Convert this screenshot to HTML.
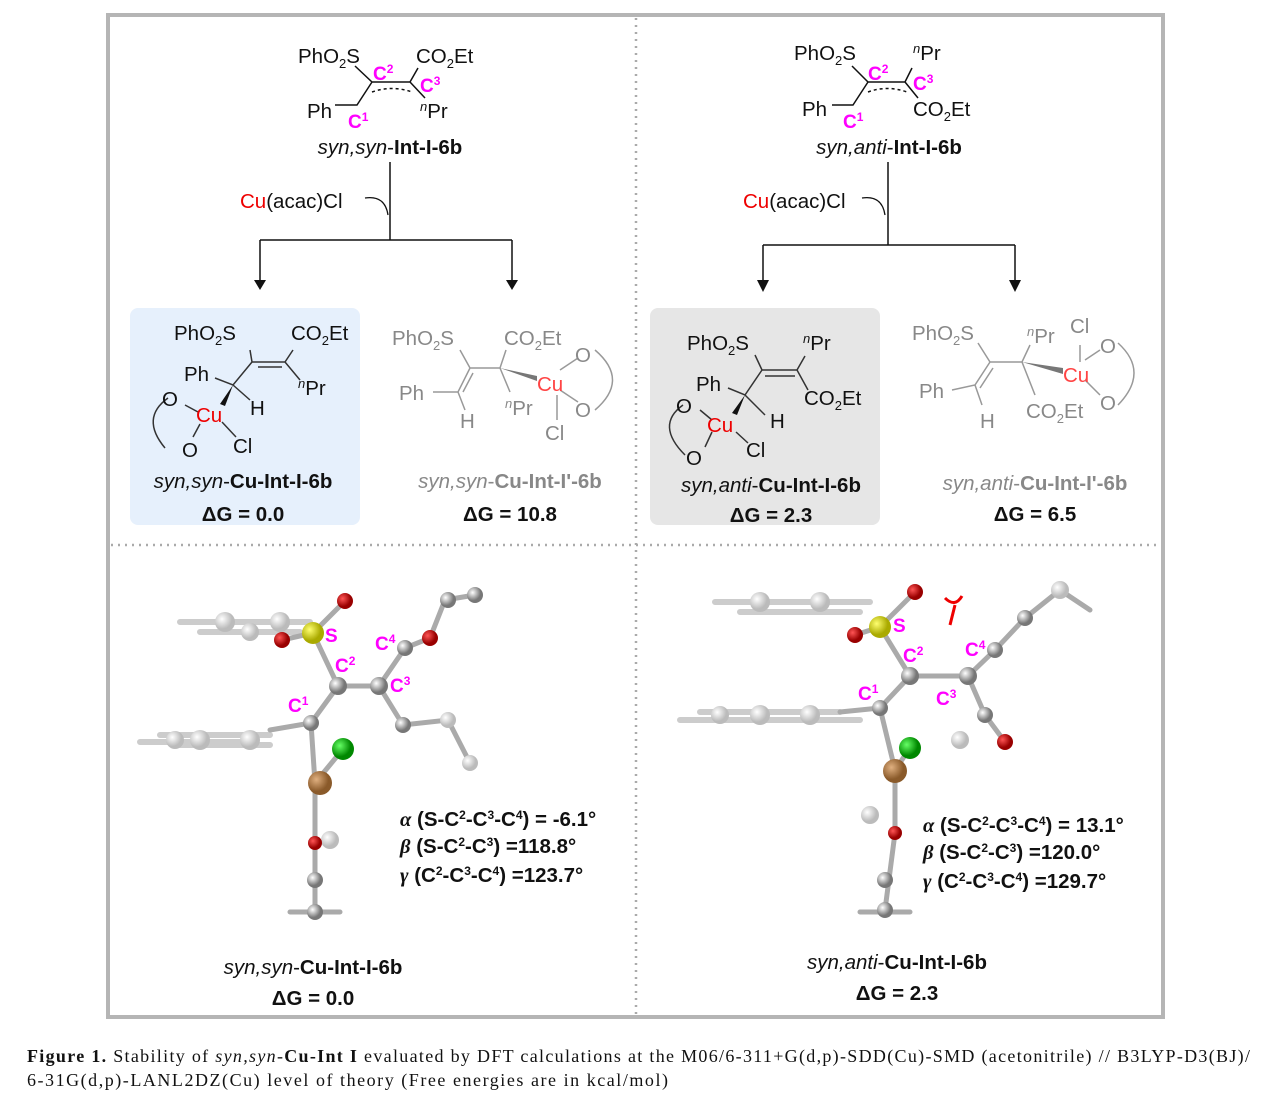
<!DOCTYPE html>
<html><head><meta charset="utf-8"><style>
html,body{margin:0;padding:0;background:#fff;}
svg{display:block;}
text{font-family:"Liberation Sans",Arial,sans-serif;}
.s{font-size:20.5px;fill:#111;}
.g{font-size:20.5px;fill:#888;}
.m{font-size:19px;fill:#f0f;font-weight:bold;}
.b{font-weight:bold;}
.cap{font-family:"Liberation Serif",serif;font-size:18px;fill:#111;}
</style></head><body>
<svg width="1269" height="1110" viewBox="0 0 1269 1110" xmlns="http://www.w3.org/2000/svg">
<defs>
<radialGradient id="gc" cx="35%" cy="35%"><stop offset="0" stop-color="#fff"/><stop offset="1" stop-color="#777"/></radialGradient>
<radialGradient id="gl" cx="35%" cy="35%"><stop offset="0" stop-color="#fff"/><stop offset="1" stop-color="#bbb"/></radialGradient>
<radialGradient id="ro" cx="35%" cy="35%"><stop offset="0" stop-color="#f55"/><stop offset="1" stop-color="#900"/></radialGradient>
<radialGradient id="ys" cx="35%" cy="35%"><stop offset="0" stop-color="#ffff70"/><stop offset="1" stop-color="#aa0"/></radialGradient>
<radialGradient id="gn" cx="35%" cy="35%"><stop offset="0" stop-color="#6f6"/><stop offset="1" stop-color="#080"/></radialGradient>
<radialGradient id="cu" cx="35%" cy="35%"><stop offset="0" stop-color="#e0b080"/><stop offset="1" stop-color="#8a5a2a"/></radialGradient>
</defs>
<rect x="108" y="15" width="1055" height="1002" fill="none" stroke="#b5b5b5" stroke-width="4"/>
<line x1="636" y1="18" x2="636" y2="1015" stroke="#aaa" stroke-width="2.5" stroke-dasharray="2,5"/>
<line x1="111" y1="545" x2="1161" y2="545" stroke="#aaa" stroke-width="2.5" stroke-dasharray="2,5"/>
<rect x="130" y="308" width="230" height="217" rx="8" fill="#e6f0fc"/>
<rect x="650" y="308" width="230" height="217" rx="8" fill="#e6e6e6"/>

<!-- top left reactant -->
<g stroke="#111" stroke-width="1.5" fill="none">
<path d="M355,66 L372,82 L410,82 L418,68 M410,82 L425,98 M372,82 L357,105 L335,105"/>
<path d="M372,92 Q392,85 412,92" stroke-dasharray="3,3"/>
</g>
<text x="298" y="63" class="s">PhO<tspan font-size="13" dy="5">2</tspan><tspan dy="-5">S</tspan></text>
<text x="416" y="63" class="s">CO<tspan font-size="13" dy="5">2</tspan><tspan dy="-5">Et</tspan></text>
<text x="373" y="80" class="m">C<tspan font-size="12" dy="-7">2</tspan></text>
<text x="420" y="92" class="m">C<tspan font-size="12" dy="-7">3</tspan></text>
<text x="348" y="128" class="m">C<tspan font-size="12" dy="-7">1</tspan></text>
<text x="307" y="118" class="s">Ph</text>
<text x="420" y="118" class="s"><tspan font-size="13" dy="-7" font-style="italic">n</tspan><tspan dy="7">Pr</tspan></text>
<text x="390" y="154" class="s" text-anchor="middle"><tspan font-style="italic">syn,syn</tspan>-<tspan class="b">Int-I-6b</tspan></text>
<path d="M390,162 V240 M260,240 H512 M260,240 V288 M512,240 V288" stroke="#111" stroke-width="1.5" fill="none"/>
<path d="M254,280 L260,290 L266,280z M506,280 L512,290 L518,280z" fill="#111"/>
<path d="M365,198 Q385,195 388,215" stroke="#111" fill="none" stroke-width="1.3"/>
<text x="240" y="208" class="s"><tspan fill="#e00">Cu</tspan>(acac)Cl</text>

<!-- top right reactant -->
<g stroke="#111" stroke-width="1.5" fill="none">
<path d="M852,66 L868,82 L905,82 L912,68 M905,82 L918,98 M868,82 L853,105 L832,105"/>
<path d="M868,92 Q887,85 907,92" stroke-dasharray="3,3"/>
</g>
<text x="794" y="60" class="s">PhO<tspan font-size="13" dy="5">2</tspan><tspan dy="-5">S</tspan></text>
<text x="913" y="60" class="s"><tspan font-size="13" dy="-7" font-style="italic">n</tspan><tspan dy="7">Pr</tspan></text>
<text x="868" y="80" class="m">C<tspan font-size="12" dy="-7">2</tspan></text>
<text x="913" y="90" class="m">C<tspan font-size="12" dy="-7">3</tspan></text>
<text x="843" y="128" class="m">C<tspan font-size="12" dy="-7">1</tspan></text>
<text x="802" y="116" class="s">Ph</text>
<text x="913" y="116" class="s">CO<tspan font-size="13" dy="5">2</tspan><tspan dy="-5">Et</tspan></text>
<text x="889" y="154" class="s" text-anchor="middle"><tspan font-style="italic">syn,anti</tspan>-<tspan class="b">Int-I-6b</tspan></text>
<path d="M888,162 V245 M763,245 H1015 M763,245 V288 M1015,245 V288" stroke="#111" stroke-width="1.5" fill="none"/>
<path d="M757,280 L763,292 L769,280z M1009,280 L1015,292 L1021,280z" fill="#111"/>
<path d="M862,198 Q882,195 885,215" stroke="#111" fill="none" stroke-width="1.3"/>
<text x="743" y="208" class="s"><tspan fill="#e00">Cu</tspan>(acac)Cl</text>

<!-- syn,syn Cu-Int-I-6b -->
<g stroke="#333" stroke-width="1.5" fill="none">
<path d="M250,350 L252,362 L285,362 L293,350 M258,367 L282,367 M285,362 L300,380 M252,362 L233,385 L215,378 M233,385 L250,400"/>
<path d="M185,405 L198,412 M200,424 L193,437 M222,422 L236,437 M168,398 Q140,418 165,448"/>
</g>
<path d="M233,385 L220,404 L225,406z" fill="#111"/>
<text x="174" y="340" class="s">PhO<tspan font-size="13" dy="5">2</tspan><tspan dy="-5">S</tspan></text>
<text x="291" y="340" class="s">CO<tspan font-size="13" dy="5">2</tspan><tspan dy="-5">Et</tspan></text>
<text x="184" y="381" class="s">Ph</text>
<text x="298" y="395" class="s"><tspan font-size="13" dy="-7" font-style="italic">n</tspan><tspan dy="7">Pr</tspan></text>
<text x="250" y="415" class="s">H</text>
<text x="162" y="406" class="s">O</text>
<text x="196" y="422" class="s" style="fill:#e00">Cu</text>
<text x="182" y="457" class="s">O</text>
<text x="233" y="453" class="s">Cl</text>
<text x="243" y="488" class="s" text-anchor="middle"><tspan font-style="italic">syn,syn</tspan>-<tspan class="b">Cu-Int-I-6b</tspan></text>
<text x="243" y="521" class="s b" text-anchor="middle">ΔG = 0.0</text>

<!-- syn,syn Cu-Int-I'-6b -->
<g stroke="#999" stroke-width="1.5" fill="none">
<path d="M460,350 L470,368 L500,368 L506,350 M470,368 L458,392 L433,392 M473,373 L463,392 M458,392 L465,410 M500,368 L510,392 M557,395 L557,420 M560,370 L578,358 M560,390 L578,402 M595,350 Q630,380 595,410"/>
</g>
<path d="M500,368 L537,376 L537,381z" fill="#777"/>
<text x="392" y="345" class="g">PhO<tspan font-size="13" dy="5">2</tspan><tspan dy="-5">S</tspan></text>
<text x="504" y="345" class="g">CO<tspan font-size="13" dy="5">2</tspan><tspan dy="-5">Et</tspan></text>
<text x="399" y="400" class="g">Ph</text>
<text x="460" y="428" class="g">H</text>
<text x="505" y="415" class="g"><tspan font-size="13" dy="-7" font-style="italic">n</tspan><tspan dy="7">Pr</tspan></text>
<text x="537" y="391" class="s" style="fill:#f44">Cu</text>
<text x="575" y="362" class="g">O</text>
<text x="575" y="417" class="g">O</text>
<text x="545" y="440" class="g">Cl</text>
<text x="510" y="488" class="g" text-anchor="middle"><tspan font-style="italic">syn,syn</tspan>-<tspan class="b">Cu-Int-I'-6b</tspan></text>
<text x="510" y="521" class="s b" text-anchor="middle">ΔG = 10.8</text>

<!-- syn,anti Cu-Int-I-6b -->
<g stroke="#333" stroke-width="1.5" fill="none">
<path d="M755,355 L762,370 L797,370 L805,356 M765,376 L795,376 M797,370 L808,390 M762,370 L745,395 L728,388 M745,395 L765,415"/>
<path d="M700,410 L712,420 M712,432 L705,447 M736,432 L748,443 M683,405 Q655,425 685,455"/>
</g>
<path d="M745,395 L732,413 L737,415z" fill="#111"/>
<text x="687" y="350" class="s">PhO<tspan font-size="13" dy="5">2</tspan><tspan dy="-5">S</tspan></text>
<text x="803" y="350" class="s"><tspan font-size="13" dy="-7" font-style="italic">n</tspan><tspan dy="7">Pr</tspan></text>
<text x="696" y="391" class="s">Ph</text>
<text x="804" y="405" class="s">CO<tspan font-size="13" dy="5">2</tspan><tspan dy="-5">Et</tspan></text>
<text x="770" y="428" class="s">H</text>
<text x="676" y="413" class="s">O</text>
<text x="707" y="432" class="s" style="fill:#e00">Cu</text>
<text x="686" y="465" class="s">O</text>
<text x="746" y="457" class="s">Cl</text>
<text x="771" y="492" class="s" text-anchor="middle"><tspan font-style="italic">syn,anti</tspan>-<tspan class="b">Cu-Int-I-6b</tspan></text>
<text x="771" y="522" class="s b" text-anchor="middle">ΔG = 2.3</text>

<!-- syn,anti Cu-Int-I'-6b -->
<g stroke="#999" stroke-width="1.5" fill="none">
<path d="M978,343 L990,362 L1022,362 L1030,345 M990,362 L975,385 L952,390 M993,368 L980,388 M975,385 L982,405 M1022,362 L1035,395 M1080,345 L1080,362 M1085,360 L1100,350 M1085,380 L1100,395 M1118,343 Q1150,372 1118,405"/>
</g>
<path d="M1022,362 L1063,368 L1063,374z" fill="#777"/>
<text x="912" y="340" class="g">PhO<tspan font-size="13" dy="5">2</tspan><tspan dy="-5">S</tspan></text>
<text x="1027" y="343" class="g"><tspan font-size="13" dy="-7" font-style="italic">n</tspan><tspan dy="7">Pr</tspan></text>
<text x="1070" y="333" class="g">Cl</text>
<text x="919" y="398" class="g">Ph</text>
<text x="980" y="428" class="g">H</text>
<text x="1026" y="418" class="g">CO<tspan font-size="13" dy="5">2</tspan><tspan dy="-5">Et</tspan></text>
<text x="1063" y="382" class="s" style="fill:#f44">Cu</text>
<text x="1100" y="353" class="g">O</text>
<text x="1100" y="410" class="g">O</text>
<text x="1035" y="490" class="g" text-anchor="middle"><tspan font-style="italic">syn,anti</tspan>-<tspan class="b">Cu-Int-I'-6b</tspan></text>
<text x="1035" y="521" class="s b" text-anchor="middle">ΔG = 6.5</text>

<!-- 3D left -->
<g stroke="#aaa" stroke-width="5" stroke-linecap="round" fill="none">
<path d="M180,622 H310 M200,632 H300 M160,735 H270 M140,742 H250 M180,745 H270" stroke="#ccc" stroke-width="6"/>
<path d="M313,633 L345,601 M313,633 L282,640 M313,633 L338,686 L379,686 L405,648 L430,638 L445,600 L475,595 M379,686 L403,725 L448,720 L470,763 M338,686 L311,723 L270,730 M311,723 L315,783 L343,749 M315,783 L315,843 L315,880 L315,912 M290,912 L340,912"/>
</g>
<g fill="url(#gl)"><circle cx="225" cy="622" r="10"/><circle cx="280" cy="622" r="10"/><circle cx="250" cy="632" r="9"/><circle cx="200" cy="740" r="10"/><circle cx="250" cy="740" r="10"/><circle cx="175" cy="740" r="9"/><circle cx="448" cy="720" r="8"/><circle cx="470" cy="763" r="8"/><circle cx="330" cy="840" r="9"/></g>
<g fill="url(#gc)"><circle cx="338" cy="686" r="9"/><circle cx="379" cy="686" r="9"/><circle cx="405" cy="648" r="8"/><circle cx="311" cy="723" r="8"/><circle cx="403" cy="725" r="8"/><circle cx="448" cy="600" r="8"/><circle cx="475" cy="595" r="8"/><circle cx="315" cy="880" r="8"/><circle cx="315" cy="912" r="8"/></g>
<circle cx="345" cy="601" r="8" fill="url(#ro)"/><circle cx="282" cy="640" r="8" fill="url(#ro)"/><circle cx="430" cy="638" r="8" fill="url(#ro)"/><circle cx="315" cy="843" r="7" fill="url(#ro)"/>
<circle cx="313" cy="633" r="11" fill="url(#ys)"/><circle cx="343" cy="749" r="11" fill="url(#gn)"/><circle cx="320" cy="783" r="12" fill="url(#cu)"/>
<text x="325" y="642" class="m">S</text>
<text x="335" y="672" class="m">C<tspan font-size="12" dy="-7">2</tspan></text>
<text x="390" y="692" class="m">C<tspan font-size="12" dy="-7">3</tspan></text>
<text x="375" y="650" class="m">C<tspan font-size="12" dy="-7">4</tspan></text>
<text x="288" y="712" class="m">C<tspan font-size="12" dy="-7">1</tspan></text>
<text x="400" y="826" class="s b"><tspan font-family="Liberation Serif" font-style="italic">α</tspan> (S-C<tspan font-size="12" dy="-7">2</tspan><tspan dy="7">-C</tspan><tspan font-size="12" dy="-7">3</tspan><tspan dy="7">-C</tspan><tspan font-size="12" dy="-7">4</tspan><tspan dy="7">) = -6.1°</tspan></text>
<text x="400" y="853" class="s b"><tspan font-family="Liberation Serif" font-style="italic">β</tspan> (S-C<tspan font-size="12" dy="-7">2</tspan><tspan dy="7">-C</tspan><tspan font-size="12" dy="-7">3</tspan><tspan dy="7">) =118.8°</tspan></text>
<text x="400" y="882" class="s b"><tspan font-family="Liberation Serif" font-style="italic">γ</tspan> (C<tspan font-size="12" dy="-7">2</tspan><tspan dy="7">-C</tspan><tspan font-size="12" dy="-7">3</tspan><tspan dy="7">-C</tspan><tspan font-size="12" dy="-7">4</tspan><tspan dy="7">) =123.7°</tspan></text>
<text x="313" y="974" class="s" text-anchor="middle"><tspan font-style="italic">syn,syn</tspan>-<tspan class="b">Cu-Int-I-6b</tspan></text>
<text x="313" y="1005" class="s b" text-anchor="middle">ΔG = 0.0</text>

<!-- 3D right -->
<g stroke="#aaa" stroke-width="5" stroke-linecap="round" fill="none">
<path d="M715,602 H870 M740,612 H860 M680,720 H860 M700,712 H840" stroke="#ccc" stroke-width="6"/>
<path d="M880,627 L915,592 M880,627 L855,635 M880,627 L910,676 L968,676 L995,650 L1025,618 L1060,590 L1090,610 M968,676 L985,715 L1005,742 M910,676 L880,708 L840,712 M880,708 L895,770 L910,748 M895,770 L895,833 L885,910 M860,912 L910,912"/>
</g>
<g fill="url(#gl)"><circle cx="760" cy="602" r="10"/><circle cx="820" cy="602" r="10"/><circle cx="760" cy="715" r="10"/><circle cx="810" cy="715" r="10"/><circle cx="720" cy="715" r="9"/><circle cx="960" cy="740" r="9"/><circle cx="870" cy="815" r="9"/><circle cx="1060" cy="590" r="9"/></g>
<g fill="url(#gc)"><circle cx="910" cy="676" r="9"/><circle cx="968" cy="676" r="9"/><circle cx="995" cy="650" r="8"/><circle cx="880" cy="708" r="8"/><circle cx="1025" cy="618" r="8"/><circle cx="985" cy="715" r="8"/><circle cx="885" cy="880" r="8"/><circle cx="885" cy="910" r="8"/></g>
<circle cx="915" cy="592" r="8" fill="url(#ro)"/><circle cx="855" cy="635" r="8" fill="url(#ro)"/><circle cx="1005" cy="742" r="8" fill="url(#ro)"/><circle cx="895" cy="833" r="7" fill="url(#ro)"/>
<circle cx="880" cy="627" r="11" fill="url(#ys)"/><circle cx="910" cy="748" r="11" fill="url(#gn)"/><circle cx="895" cy="771" r="12" fill="url(#cu)"/>
<path d="M945,598 Q955,608 962,596 M955,605 L950,625" stroke="#e00" stroke-width="3" fill="none"/>
<text x="893" y="632" class="m">S</text>
<text x="903" y="662" class="m">C<tspan font-size="12" dy="-7">2</tspan></text>
<text x="936" y="705" class="m">C<tspan font-size="12" dy="-7">3</tspan></text>
<text x="965" y="656" class="m">C<tspan font-size="12" dy="-7">4</tspan></text>
<text x="858" y="700" class="m">C<tspan font-size="12" dy="-7">1</tspan></text>
<text x="923" y="832" class="s b"><tspan font-family="Liberation Serif" font-style="italic">α</tspan> (S-C<tspan font-size="12" dy="-7">2</tspan><tspan dy="7">-C</tspan><tspan font-size="12" dy="-7">3</tspan><tspan dy="7">-C</tspan><tspan font-size="12" dy="-7">4</tspan><tspan dy="7">) = 13.1°</tspan></text>
<text x="923" y="859" class="s b"><tspan font-family="Liberation Serif" font-style="italic">β</tspan> (S-C<tspan font-size="12" dy="-7">2</tspan><tspan dy="7">-C</tspan><tspan font-size="12" dy="-7">3</tspan><tspan dy="7">) =120.0°</tspan></text>
<text x="923" y="888" class="s b"><tspan font-family="Liberation Serif" font-style="italic">γ</tspan> (C<tspan font-size="12" dy="-7">2</tspan><tspan dy="7">-C</tspan><tspan font-size="12" dy="-7">3</tspan><tspan dy="7">-C</tspan><tspan font-size="12" dy="-7">4</tspan><tspan dy="7">) =129.7°</tspan></text>
<text x="897" y="969" class="s" text-anchor="middle"><tspan font-style="italic">syn,anti</tspan>-<tspan class="b">Cu-Int-I-6b</tspan></text>
<text x="897" y="1000" class="s b" text-anchor="middle">ΔG = 2.3</text>

<text x="27" y="1062" class="cap" textLength="1223" lengthAdjust="spacing"><tspan font-weight="bold">Figure 1.</tspan> Stability of <tspan font-style="italic">syn,syn</tspan>-<tspan font-weight="bold">Cu-Int I</tspan> evaluated by DFT calculations at the M06/6-311+G(d,p)-SDD(Cu)-SMD (acetonitrile) // B3LYP-D3(BJ)/</text>
<text x="27" y="1086" class="cap" textLength="641" lengthAdjust="spacing">6-31G(d,p)-LANL2DZ(Cu) level of theory (Free energies are in kcal/mol)</text>
</svg>
</body></html>
